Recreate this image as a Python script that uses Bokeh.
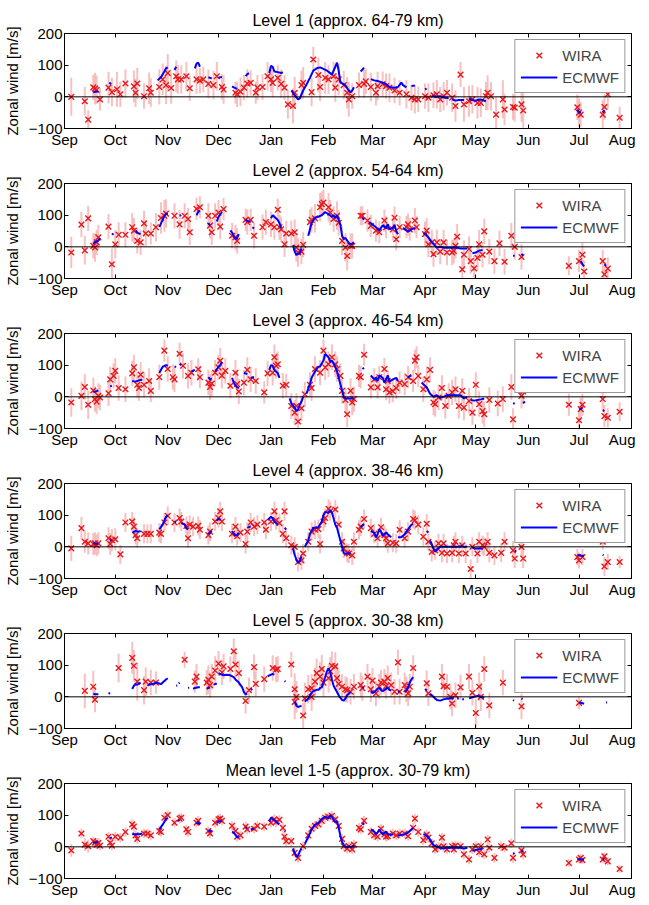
import math
from bokeh.plotting import figure
from bokeh.models import FixedTicker, Span, Legend, LegendItem, LinearAxis, Range1d
from bokeh.layouts import column
from bokeh.embed import file_html
from bokeh.resources import INLINE

# ---------------- data ----------------
# x = days since 1 September, y = zonal wind [m/s]
MONTH_DAYS = [0, 30, 61, 91, 122, 153, 182, 213, 243, 274, 304, 335]
MONTH_LABELS = ["Sep", "Oct", "Nov", "Dec", "Jan", "Feb", "Mar", "Apr", "May", "Jun", "Jul", "Aug"]
Y_TICKS = [-100, 0, 100, 200]

TITLES = [
    "Level 1 (approx. 64-79 km)",
    "Level 2 (approx. 54-64 km)",
    "Level 3 (approx. 46-54 km)",
    "Level 4 (approx. 38-46 km)",
    "Level 5 (approx. 30-38 km)",
    "Mean level 1-5 (approx. 30-79 km)",
]

# WIRA: (day, wind, error half-width)
WIRA_L1 = [(4,0,60),(12,-14,45),(14,-72,30),(17,30,40),(18,26,50),(19,22,45),(21,-8,35),(26,29,50),(28,15,45),(31,24,55),(33,8,40),(36,42,45),(41,33,50),(42,13,45),(43,42,50),(47,2,40),(50,27,50),(51,13,45),(56,31,55),(58,55,50),(60,37,60),(61,75,60),(63,28,50),(66,65,50),(67,55,45),(69,55,45),(72,65,45),(74,27,40),(78,55,45),(80,51,40),(82,55,40),(85,41,45),(88,37,45),(90,65,45),(93,31,40),(94,23,45),(101,13,35),(102,8,40),(104,16,45),(106,29,40),(108,42,45),(110,44,40),(113,13,35),(114,29,40),(117,31,40),(120,65,45),(122,55,40),(123,44,45),(126,60,40),(128,41,45),(130,29,40),(132,-24,45),(135,-29,55),(136,13,50),(140,37,45),(141,44,50),(146,15,45),(147,118,40),(150,69,55),(151,31,45),(154,60,50),(156,55,45),(159,65,45),(160,29,45),(162,55,50),(165,37,45),(167,13,50),(168,-8,55),(170,2,40),(174,37,40),(177,41,45),(178,49,40),(181,31,45),(184,13,40),(185,34,45),(188,40,40),(190,34,40),(192,29,45),(195,20,40),(198,13,40),(202,8,45),(205,-3,40),(207,-8,45),(209,-8,40),(213,2,40),(215,-3,45),(218,5,40),(220,8,45),(222,-8,40),(224,2,45),(226,13,40),(229,-3,45),(231,-29,50),(234,70,40),(236,-24,55),(239,-14,50),(241,-8,45),(244,-19,50),(246,-19,45),(249,2,45),(250,13,55),(252,2,45),(255,-56,55),(259,-8,60),(260,-40,50),(265,-32,40),(266,-34,45),(270,-24,55),(271,-43,55),(303,-33,40),(304,-50,45),(305,-56,40),(318,-56,45),(319,-32,40),(321,8,45),(328,-66,35)]

WIRA_L2 = [(4,-18,50),(10,70,40),(12,-11,45),(14,90,40),(17,3,40),(18,-2,45),(19,14,40),(20,30,40),(26,64,40),(28,-55,50),(30,8,45),(32,38,40),(36,38,40),(40,62,45),(41,51,40),(43,19,40),(45,14,40),(47,74,40),(48,42,40),(51,42,35),(54,62,45),(57,91,50),(59,98,50),(60,105,45),(65,98,40),(68,71,45),(71,98,40),(73,88,35),(74,46,40),(78,120,35),(80,125,35),(85,98,40),(86,67,40),(87,46,40),(89,98,40),(91,108,40),(92,64,40),(94,119,35),(99,35,40),(101,30,40),(102,19,40),(107,85,35),(108,78,40),(110,85,35),(112,35,40),(117,62,40),(119,78,40),(122,71,40),(124,62,40),(126,117,35),(127,62,40),(128,55,40),(130,8,40),(131,42,40),(134,42,40),(136,46,40),(137,-2,45),(138,-18,45),(140,-15,40),(141,6,40),(145,78,40),(146,85,40),(148,90,45),(151,125,45),(152,135,40),(153,140,40),(156,125,45),(157,108,40),(159,88,40),(161,98,45),(162,76,40),(164,19,45),(166,-2,45),(167,-29,45),(169,3,40),(170,3,40),(175,98,30),(176,98,30),(179,83,35),(181,66,35),(184,51,35),(186,46,35),(189,83,35),(190,62,35),(194,55,35),(195,92,35),(196,24,35),(198,62,35),(202,62,35),(203,71,35),(204,55,35),(207,83,40),(208,62,35),(213,40,40),(214,51,40),(215,8,40),(217,14,40),(218,-23,40),(220,14,40),(222,-15,40),(224,14,40),(226,-18,40),(229,-18,40),(230,-13,40),(231,3,40),(232,32,40),(235,-71,40),(236,-25,45),(239,-7,40),(240,-45,40),(242,-68,40),(244,-35,40),(245,8,45),(247,-25,40),(248,49,40),(251,-15,40),(254,-45,40),(257,11,40),(260,-47,40),(264,35,40),(266,0,40),(270,-32,40),(298,-60,30),(304,-45,35),(306,-25,40),(307,-78,35),(318,-45,35),(319,-87,30),(321,-69,35)]

WIRA_L3 = [(4,-18,45),(10,3,45),(12,31,40),(14,-25,45),(17,20,40),(18,-7,40),(19,-15,40),(20,3,40),(21,-2,40),(26,11,40),(27,55,40),(29,66,40),(30,82,40),(32,28,40),(36,24,40),(40,74,40),(41,93,40),(43,38,40),(44,28,40),(45,70,40),(47,38,40),(50,50,40),(51,19,35),(56,62,40),(59,146,35),(61,88,40),(64,62,40),(65,55,40),(68,136,35),(70,98,40),(73,66,40),(75,76,40),(79,87,35),(80,62,35),(85,45,40),(86,31,40),(87,42,40),(89,76,40),(91,93,40),(92,114,40),(93,67,40),(95,82,40),(98,35,40),(101,76,40),(102,40,40),(103,17,40),(106,45,40),(108,85,40),(110,55,40),(113,50,40),(118,14,35),(120,74,40),(123,76,40),(124,125,40),(125,98,40),(126,103,40),(129,35,40),(131,38,35),(134,-29,40),(136,-50,40),(137,-29,40),(138,-78,35),(140,-36,40),(142,8,40),(145,38,40),(146,28,40),(148,88,40),(151,76,40),(153,146,35),(154,93,40),(156,103,40),(158,125,40),(160,103,40),(161,88,40),(163,66,40),(164,19,40),(166,-10,40),(167,-55,40),(169,19,40),(170,-18,40),(171,-7,40),(174,66,35),(175,62,35),(177,133,35),(181,30,35),(183,55,35),(185,30,35),(186,62,35),(189,88,35),(190,24,35),(191,50,35),(192,14,35),(194,18,35),(196,28,35),(198,45,35),(201,40,35),(203,62,35),(206,50,35),(207,114,35),(208,125,35),(209,66,35),(212,24,40),(214,55,40),(216,85,40),(218,-18,40),(219,-23,40),(221,-2,40),(223,28,40),(225,-29,40),(227,3,40),(229,14,40),(231,24,40),(233,-29,40),(235,19,40),(236,-34,40),(239,-13,40),(241,-50,40),(243,38,40),(245,-23,40),(247,-45,40),(248,-55,40),(251,-10,40),(256,-21,40),(259,-7,40),(264,31,40),(265,-71,35),(270,3,40),(271,17,40),(298,-25,35),(304,-74,30),(305,-39,35),(306,-25,35),(318,-7,35),(319,-61,35),(321,-66,30),(328,-47,30)]

WIRA_L4 = [(4,-5,40),(10,59,35),(12,16,35),(14,11,35),(17,9,35),(18,11,35),(19,5,35),(20,11,35),(26,27,35),(27,9,35),(28,21,35),(30,24,35),(33,-24,30),(36,77,30),(40,80,30),(41,64,30),(42,37,30),(43,27,30),(47,41,30),(49,41,30),(51,41,30),(56,45,30),(57,41,30),(59,77,30),(61,98,30),(65,77,30),(68,91,30),(69,80,30),(72,66,30),(73,27,30),(74,70,30),(76,64,30),(79,66,30),(80,54,30),(85,37,30),(86,48,30),(89,80,30),(91,91,30),(92,112,30),(93,80,30),(99,41,30),(101,64,30),(102,34,30),(104,45,30),(107,9,30),(108,48,30),(110,77,30),(112,64,30),(114,70,30),(118,77,30),(119,54,30),(122,80,30),(124,112,30),(125,84,30),(127,75,30),(129,41,30),(130,112,30),(131,27,30),(134,5,30),(136,0,30),(138,-48,30),(140,-43,30),(141,-21,30),(144,16,30),(146,48,30),(148,54,30),(150,56,30),(151,9,30),(153,80,30),(154,91,30),(156,120,30),(157,112,30),(160,118,30),(162,70,30),(164,16,30),(165,-5,30),(167,-19,30),(168,-21,30),(170,-27,30),(171,16,30),(174,54,30),(175,64,30),(177,88,30),(181,59,30),(183,41,30),(185,27,30),(187,62,30),(189,37,30),(190,27,30),(191,11,30),(194,13,30),(196,11,30),(198,54,30),(201,27,30),(203,48,30),(206,88,30),(207,84,30),(209,70,30),(212,32,30),(214,73,30),(215,16,30),(217,-16,30),(219,-11,30),(221,11,30),(223,-19,30),(224,11,30),(226,-21,30),(229,-19,30),(230,5,30),(231,16,30),(233,-21,30),(235,5,30),(237,-21,30),(240,-70,30),(241,0,30),(244,-21,30),(245,16,30),(247,5,30),(248,0,30),(250,16,30),(251,-19,30),(254,-27,30),(258,-19,30),(260,16,30),(265,-11,30),(266,-37,30),(270,0,30),(271,-37,30),(303,-32,25),(304,-43,25),(306,-32,25),(318,16,25),(319,-62,30),(321,-48,25),(328,-48,20)]

WIRA_L5 = [(12,19,55),(17,32,50),(18,-9,40),(32,91,45),(40,123,50),(41,98,50),(43,48,60),(47,21,45),(48,48,45),(51,45,40),(54,45,35),(71,117,25),(77,48,35),(78,64,40),(84,45,40),(85,54,45),(86,37,40),(87,64,40),(89,83,45),(91,105,40),(93,77,40),(94,96,40),(98,88,40),(100,144,40),(101,102,40),(103,75,40),(107,-13,40),(109,21,40),(112,94,40),(113,41,40),(118,56,40),(123,91,40),(125,86,40),(126,88,40),(134,102,40),(136,24,50),(136,-16,55),(137,0,50),(141,-59,40),(142,-5,50),(144,24,45),(146,0,45),(146,27,45),(148,48,45),(149,75,45),(151,64,45),(152,88,45),(153,45,45),(156,59,45),(157,80,45),(158,98,45),(160,96,45),(161,59,45),(162,41,45),(164,32,40),(166,24,40),(167,21,40),(169,16,40),(171,32,40),(175,37,40),(176,27,40),(179,64,40),(181,24,40),(182,51,40),(184,11,40),(186,32,40),(187,45,40),(189,48,40),(190,34,40),(191,59,40),(193,37,40),(195,16,40),(197,109,40),(198,16,40),(201,37,40),(202,24,40),(203,11,40),(204,32,40),(206,91,40),(214,43,40),(215,11,40),(223,64,40),(224,34,40),(226,32,40),(228,0,40),(229,-21,40),(231,5,40),(234,30,40),(239,64,40),(241,13,40),(243,-51,45),(245,32,45),(246,0,45),(248,88,40),(251,-27,40),(259,45,40),(270,-30,40),(304,-19,20)]

WIRA_M = [(4,-11,20),(10,42,15),(12,7,20),(14,2,20),(17,18,15),(18,13,15),(19,7,15),(20,13,15),(21,4,15),(26,32,15),(27,13,15),(28,4,15),(30,32,15),(33,29,15),(36,47,15),(40,71,15),(41,64,15),(42,36,15),(43,25,15),(47,42,15),(49,42,15),(51,36,15),(56,50,15),(57,47,15),(59,92,15),(61,100,15),(65,76,15),(68,89,15),(69,92,15),(72,55,15),(73,47,15),(78,76,15),(79,82,15),(85,50,15),(86,42,15),(89,76,15),(91,87,15),(92,89,15),(93,82,15),(99,66,15),(101,50,15),(102,32,15),(104,36,15),(107,64,15),(108,55,15),(112,57,15),(114,66,15),(118,64,15),(122,76,15),(124,87,15),(125,78,15),(127,85,15),(129,60,15),(130,32,15),(131,18,15),(134,18,15),(136,-19,15),(138,-35,15),(141,2,15),(144,36,15),(146,57,15),(148,66,15),(150,71,15),(152,82,15),(154,92,15),(156,95,15),(158,98,15),(160,87,15),(162,66,15),(164,25,15),(165,2,15),(167,-6,15),(168,2,15),(170,-8,15),(171,7,15),(174,60,15),(175,55,15),(177,82,15),(181,47,15),(183,36,15),(185,32,15),(187,57,15),(189,39,15),(190,32,15),(191,34,15),(194,42,15),(196,36,15),(198,42,15),(201,42,15),(203,34,15),(206,60,15),(207,89,15),(209,47,15),(212,21,15),(214,39,15),(215,29,15),(217,11,15),(219,-8,15),(221,0,15),(223,29,15),(224,2,15),(226,-8,15),(229,2,15),(230,-8,15),(231,4,15),(234,2,15),(236,-24,15),(239,-40,15),(241,-8,15),(243,2,15),(245,-17,15),(246,2,15),(248,-24,15),(250,23,15),(251,-3,15),(254,-35,15),(258,2,15),(260,-3,15),(264,11,15),(265,-35,15),(270,-11,15),(271,-24,15),(298,-51,12),(304,-40,12),(305,-35,12),(306,-42,12),(318,-40,12),(319,-30,12),(321,-46,12),(328,-70,12)]

# ECMWF: segments of (day, wind)
ECMWF_L1 = [[(17,14),(18,16),(20,17)],[(26.5,45),(27.5,40)],[(55,52),(57,62),(59,80),(60,90),(61,93)],[(65,85),(66,95)],[(77,90),(78,105),(79,108),(80,95)],[(85,62),(86,60),(87,58)],[(91,60),(93,63)],[(99,33),(100,30),(102,25)],[(107,65),(108,72),(109,75)],[(121,75),(122,98),(123,95),(124,80),(126,78),(128,75),(129,78)],[(134,20),(136,5),(138,-8),(139,-5),(141,20),(143,39)],[(143,39),(145,60),(147,83),(149,90),(151,93),(153,88),(155,83),(157,75),(158,70),(160,95),(161,108),(162,83),(163,45),(165,40),(166,36),(168,20),(169,14),(170,20),(171,30)],[(175,80),(177,92)],[(181,56),(183,52),(185,50),(188,45),(190,40),(192,31),(195,29),(197,31),(199,45),(200,37),(202,30)],[(205,34),(207,36)],[(213,24),(214,26)],[(217,2),(220,0),(222,2),(224,-2),(226,-3),(227,-5)],[(229,-8),(231,-12),(233,-10),(236,-10)],[(239,-6),(241,-10),(243,-12),(245,-8),(247,-10),(249,-14)],[(303,-40),(304,-50),(305,-48)],[(318,-50),(319,-42)]]

ECMWF_L2 = [[(17,10),(18,15),(20,20),(21,28)],[(28,42),(29,38)],[(42,52),(43,45),(44,42),(45,40)],[(56,62),(58,85),(59,98),(60,105),(61,103)],[(68,98),(69,100)],[(78,100),(79,110),(80,115)],[(85,75),(86,68)],[(90,80),(91,95),(93,110)],[(98,52),(99,45),(100,35),(101,25),(102,28),(103,40)],[(107,86),(108,82),(110,78)],[(111,62),(112,58)],[(122,90),(123,100),(124,95),(126,85),(127,75),(128,60)],[(135,5),(136,-15),(137,-25),(139,-20),(140,-5)],[(144,35),(145,55),(146,75),(148,92),(150,95),(152,100),(154,110),(156,103),(158,95),(159,100),(160,90),(161,100),(162,85),(163,70),(164,35),(165,25),(166,28),(167,20),(168,12),(169,8),(170,10),(171,14)],[(176,92),(177,85)],[(180,78),(182,70),(184,62),(186,52),(188,68),(190,58),(191,72),(192,55),(194,60),(195,70),(196,50),(197,40)],[(200,60),(202,52),(203,48),(205,55),(207,60)],[(212,40),(213,42),(215,30),(217,15),(218,10),(220,-3),(222,0),(224,-3),(226,-3),(228,-3),(230,-3),(232,-3),(234,-5),(236,-5),(238,-5)],[(241,-20),(243,-18),(245,-12),(247,-10)],[(265,-28),(266,-28)],[(270,-22),(271,-28)],[(305,-45),(306,-55),(307,-62)],[(319,-55),(320,-60)]]

ECMWF_L3 = [[(17,15),(19,18),(20,20)],[(27,33),(28,35)],[(40,50),(42,48),(44,52),(46,55)],[(56,75),(58,95),(60,100),(61,98)],[(65,95),(66,95)],[(68,100),(69,103)],[(75,80),(77,85)],[(85,62),(86,55),(87,58)],[(89,80),(91,95),(92,100),(93,110)],[(99,60),(100,45),(101,35),(102,30),(103,28)],[(106,75),(108,72)],[(110,60),(112,62)],[(121,85),(122,100),(123,98),(124,85),(126,75),(127,60)],[(133,-5),(134,-20),(136,-35),(137,-45),(138,-40),(139,-25),(140,-15),(141,0)],[(143,10),(145,40),(146,60),(148,80),(150,95),(151,96),(153,115),(154,135),(156,125),(157,110),(158,115),(159,105),(160,95),(161,80),(162,60),(163,40),(164,20),(165,0),(166,-5),(168,-5),(170,-5),(171,-6)],[(176,88),(177,92)],[(181,68),(183,55),(184,60),(185,50),(186,68),(188,60),(189,45),(190,55),(191,68),(192,48),(194,55),(196,60),(197,50)],[(203,60),(204,65),(205,68)],[(211,45),(212,40),(214,30),(216,10),(218,0),(220,5),(222,-3),(224,0),(226,5),(228,5),(230,5),(232,5),(234,5),(236,-5),(238,0)],[(240,-10),(242,-12),(244,-10),(246,-8),(248,-5)],[(265,-20),(266,-22)],[(271,-20),(272,-15)],[(304,-40),(305,-38),(306,-35)],[(318,-42),(319,-45)]]

ECMWF_L4 = [[(17,12),(18,10),(19,10),(20,10)],[(27,22),(28,20)],[(40,45),(42,50),(44,48),(45,50)],[(56,55),(58,70),(60,95),(61,100)],[(65,80),(66,78)],[(69,75),(71,70),(72,58),(73,55)],[(85,40),(86,45),(87,50)],[(90,82),(91,90),(92,85)],[(99,50),(100,42),(101,35),(102,38),(103,45)],[(108,60),(110,65)],[(120,85),(122,95),(123,90),(124,80),(125,75),(126,70)],[(130,60),(131,55)],[(135,-5),(136,-25),(137,-40),(138,-50),(139,-45),(140,-30)],[(142,0),(144,20),(145,40),(147,60),(149,60),(150,62),(152,80),(153,100),(154,110),(156,108),(157,115),(158,108),(159,90),(160,70),(161,60),(162,40),(163,20),(164,0),(165,-20),(166,-22),(168,-20),(169,-22)],[(175,62),(177,72)],[(181,50),(183,45),(184,30),(185,40),(186,55),(187,48),(188,35),(190,45),(191,40),(193,30)],[(197,30),(199,30),(201,40),(203,55),(205,70),(206,72)],[(214,50),(215,45)],[(216,20),(218,-5),(219,-15),(220,-10),(222,0),(224,0),(226,0),(228,0),(230,0),(232,0),(234,2),(236,0),(238,0)],[(241,-3),(243,-5),(245,-5),(247,-5)],[(266,-13),(267,-13)],[(303,-25),(305,-28),(307,-28)],[(318,-25),(318.5,-27)]]

ECMWF_L5 = [[(17,10),(18,8),(20,8)],[(26,12),(27,10)],[(40,25),(41,35),(42,40),(43,38),(44,42),(45,45)],[(49,35),(50,38),(51,40),(53,42),(54,45),(56,42),(57,40),(58,45),(59,50),(60,55),(61,58)],[(66,35),(66.6,36)],[(67.5,42),(68,45)],[(73,28),(73.6,29)],[(76,25),(77,28),(79,30),(80,30)],[(84,25),(85,28),(86,30)],[(88,38),(89,40),(90,42)],[(91,75),(92,72),(93,70),(94,68),(96,70),(98,68),(100,62),(101,55),(103,45),(105,30),(106,15),(107,8),(108,10)],[(110,22),(111,25)],[(120,65),(122,70),(123,72),(124,70)],[(130,50),(130.6,48)],[(136,-15),(137,-28),(138,-32),(139,-30),(140,-28)],[(142,-15),(143,-10),(144,-5),(145,5),(146,12),(147,18),(148,20),(149,22),(150,22),(151,28),(152,30),(153,45),(154,62),(155,80),(156,90),(157,78),(158,55),(159,35),(160,25),(161,15),(162,5),(163,-3),(164,-10),(165,-12),(166,-5),(167,5),(168,10),(169,15)],[(176,28),(177,30)],[(181,18),(182,12),(183,15),(184,20),(185,25),(186,28),(187,22),(188,18),(190,25),(191,30),(192,22),(193,20)],[(197,15),(198,18)],[(201,15),(202,20),(203,30),(204,45),(205,55),(206,62)],[(213,25),(214,20)],[(216,10),(218,0),(219,-5),(220,-10),(222,-12),(224,-8),(226,-5),(228,-5),(230,-3)],[(232,-5),(233,-5)],[(235,-8),(236,-8)],[(239,-5),(240,-3),(242,0),(244,3),(246,0),(248,-3)],[(265,-10),(265.6,-12)],[(270,-5),(270.6,-8)],[(304,-18),(306,-20),(307,-22)],[(320,-18),(320.6,-18)]]

ECMWF_M = [[(17,12),(18,14),(20,15)],[(27,28),(28,30)],[(40,40),(42,40),(44,40),(46,42)],[(56,55),(58,70),(60,88),(61,92)],[(67,82),(68,85)],[(78,72),(79,78),(80,70)],[(85,50),(86,52),(87,48)],[(90,75),(91,80),(93,82)],[(99,48),(100,45),(101,38),(102,30),(103,32)],[(107,60),(108,60)],[(110,55),(112,58)],[(121,80),(122,92),(123,88),(125,80),(126,75),(127,72)],[(130,50),(130.6,48)],[(135,-5),(136,-20),(137,-32),(138,-28),(139,-15),(140,-5)],[(142,10),(144,30),(146,55),(148,70),(150,75),(152,88),(154,95),(156,90),(157,100),(158,95),(159,85),(160,78),(161,80),(162,60),(163,35),(164,15),(165,5),(166,0),(168,0),(170,0),(171,5)],[(176,70),(177,75)],[(181,55),(183,48),(184,40),(185,45),(186,55),(187,45),(188,40),(190,48),(191,40),(193,38),(194,40)],[(197,35),(199,38),(201,40),(203,45),(205,55),(206,60)],[(212,40),(213,38),(215,30),(217,15),(218,5),(220,0),(222,-3),(224,-5),(226,-3),(228,-3),(230,-3),(232,-3),(234,-3),(236,-5),(238,-3)],[(241,-12),(243,-10),(245,-8),(247,-5)],[(265,-22),(266,-20)],[(270,-15),(271,-12)],[(303,-38),(305,-40),(307,-40)],[(318,-38),(319,-40)]]

WIRA_ALL = [WIRA_L1, WIRA_L2, WIRA_L3, WIRA_L4, WIRA_L5, WIRA_M]
ECMWF_ALL = [ECMWF_L1, ECMWF_L2, ECMWF_L3, ECMWF_L4, ECMWF_L5, ECMWF_M]

# ---------------- style ----------------
FONT = "Liberation Sans"
RED = "#e8191c"
ERR = "#f4a6a6"
BLUE = "#0000ff"


def make_panel(title, wira, ecmwf, last):
    p = figure(frame_width=567, frame_height=95, x_range=Range1d(0, 335), y_range=Range1d(-100, 200),
               output_backend="svg", toolbar_location=None,
               min_border_left=63, min_border_right=4, min_border_top=33,
               min_border_bottom=16 if last else 20)
    p.title.text = title
    p.title.align = "center"
    p.title.text_font = FONT
    p.title.text_font_size = "16px"
    p.title.text_font_style = "normal"
    p.title.text_color = "#000000"
    p.grid.visible = False
    p.outline_line_color = "#000000"
    p.outline_line_width = 1
    p.background_fill_color = "#ffffff"

    month_labels = {d: l for d, l in zip(MONTH_DAYS, MONTH_LABELS)}
    xa = p.xaxis[0]
    xa.ticker = FixedTicker(ticks=MONTH_DAYS)
    xa.major_label_overrides = month_labels
    ya = p.yaxis[0]
    ya.ticker = FixedTicker(ticks=Y_TICKS)
    ya.axis_label = "Zonal wind [m/s]"
    for ax in (xa, ya):
        ax.major_tick_in = 4
        ax.major_tick_out = 0
        ax.minor_tick_line_color = None
        ax.major_label_text_font = FONT
        ax.major_label_text_font_size = "15px"
        ax.major_label_text_color = "#000000"
        ax.axis_line_color = "#000000"
        ax.major_tick_line_color = "#000000"
        ax.major_label_standoff = 2
    ya.axis_label_text_font = FONT
    ya.axis_label_text_font_size = "15px"
    ya.axis_label_text_font_style = "normal"
    ya.axis_label_text_color = "#000000"
    ya.axis_label_standoff = 5

    # zero line
    p.add_layout(Span(location=0, dimension="width", line_color="#000000", line_width=1))

    xs = [d for d, v, e in wira]
    ys = [v for d, v, e in wira]
    lo = [v - e for d, v, e in wira]
    hi = [v + e for d, v, e in wira]
    p.segment(x0=xs, x1=xs, y0=lo, y1=hi, line_color=ERR, line_width=2, line_alpha=0.7)
    r_w = p.scatter(xs, ys, marker="x", size=8, line_color=RED, line_width=1.4)

    lx, ly = [], []
    for seg in ecmwf:
        for d, v in seg:
            lx.append(d)
            ly.append(v)
        lx.append(math.nan)
        ly.append(math.nan)
    r_e = p.line(lx, ly, line_color=BLUE, line_width=2)

    legend = Legend(items=[LegendItem(label="WIRA", renderers=[r_w]),
                           LegendItem(label="ECMWF", renderers=[r_e])],
                    location="top_right")
    legend.margin = 6
    legend.padding = 5
    legend.spacing = 2
    legend.label_text_font = FONT
    legend.label_text_font_size = "15px"
    legend.label_standoff = 5
    legend.label_height = 20
    legend.glyph_width = 37
    legend.glyph_height = 20
    legend.border_line_color = "#333333"
    legend.border_line_width = 1
    legend.background_fill_alpha = 1.0
    p.add_layout(legend)

    # box ticks on top and right (no labels drawn)
    top = LinearAxis(ticker=FixedTicker(ticks=MONTH_DAYS), major_label_text_color=None,
                     major_label_text_font_size="1px",
                     major_tick_in=4, major_tick_out=0, minor_tick_line_color=None,
                     axis_line_color=None, major_label_standoff=0)
    right = LinearAxis(ticker=FixedTicker(ticks=Y_TICKS), major_label_text_color=None,
                       major_label_text_font_size="1px",
                       major_tick_in=4, major_tick_out=0, minor_tick_line_color=None,
                       axis_line_color=None, major_label_standoff=0)
    p.add_layout(top, "above")
    p.add_layout(right, "right")
    return p


panels = [make_panel(t, w, e, i == 5) for i, (t, w, e) in enumerate(zip(TITLES, WIRA_ALL, ECMWF_ALL))]
page = column(*panels, spacing=0)
open("out.html", "w").write(file_html(page, INLINE))
